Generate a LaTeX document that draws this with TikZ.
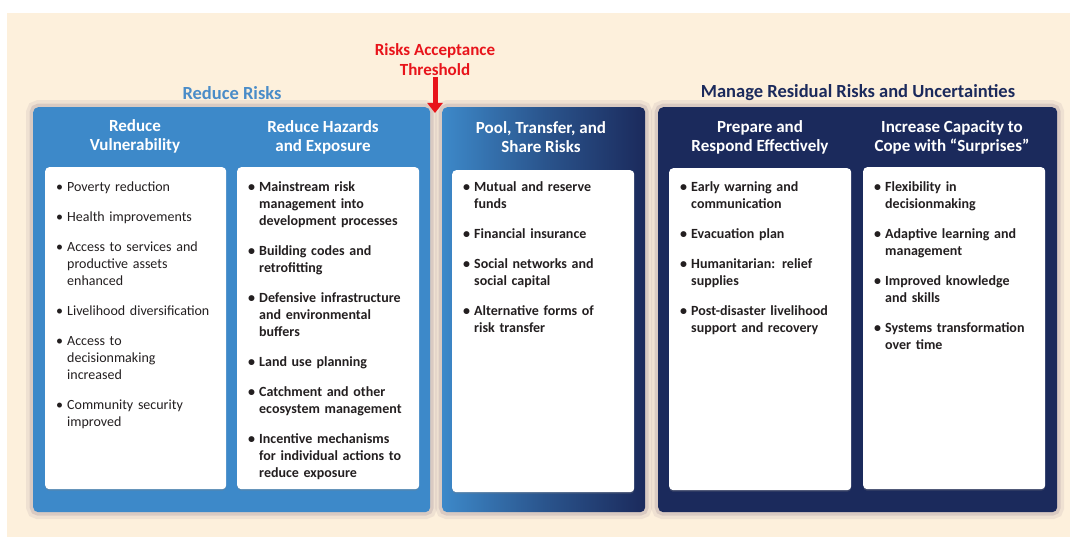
\documentclass[tikz,border=0pt]{standalone}
\usepackage{fontspec}
\setmainfont{Carlito}
\usetikzlibrary{arrows.meta, positioning, shadows}
\definecolor{creamcolor}{RGB}{253,240,220}
\definecolor{riskblue}{RGB}{61,137,201}
\definecolor{titleblue}{RGB}{74,140,200}
\definecolor{navycolor}{RGB}{27,42,92}
\definecolor{haloshade}{RGB}{200,184,182}
\definecolor{threshred}{RGB}{232,20,27}
\definecolor{textdark}{RGB}{35,31,32}

\newcommand{\listfont}{\fontsize{14}{17}\selectfont\parskip=13pt\lineskip=0pt}
\newcommand{\bul}[1]{\par\noindent\makebox[11pt][l]{\textbullet}\begin{tabular}[t]{@{}l@{}}#1\end{tabular}\par}

\begin{document}
\begin{tikzpicture}[
    x=1pt, y=-1pt,
    panel/.style={rounded corners=5pt, anchor=north west, minimum height=405pt,
        preaction={draw=haloshade, line width=14pt, draw opacity=0.25},
        preaction={draw=haloshade, line width=7pt, draw opacity=0.55}},
    card/.style={fill=white, rounded corners=4pt, anchor=north west, minimum width=182pt, minimum height=322pt,
        drop shadow={shadow xshift=0pt, shadow yshift=-1.5pt, opacity=0.3}},
    heading/.style={text=white, align=center, font=\fontsize{17}{19}\selectfont\bfseries},
    group/.style={font=\fontsize{18.5}{20}\selectfont\bfseries},
    items/.style={anchor=north west, inner sep=0pt, text width=170pt, text=textdark, font=\listfont},
    bolditems/.style={items, font=\listfont\bfseries},
    threshold/.style={-{Triangle[length=10pt, width=15pt]}, line width=5pt, threshred}
]
    % Background
    \fill[white] (0,0) rectangle (1070,537);
    \fill[creamcolor] (7,13) rectangle (1070,537);
    \useasboundingbox (0,0) rectangle (1070,537);

    % Panels
    \node[panel, fill=riskblue, minimum width=397pt] (rrpanel) at (33,107) {};
    \node[panel, left color=riskblue, right color=navycolor, middle color=riskblue!45!navycolor, minimum width=203pt] (poolpanel) at (442,107) {};
    \node[panel, fill=navycolor, minimum width=399pt] (mgpanel) at (658,107) {};

    % Group titles
    \node[group, text=titleblue] (rrtitle) at (232,93) {Reduce Risks};
    \node[group, text=navycolor] (mgtitle) at (858,93) {Manage Residual Risks and Uncertainties};
    \node[group, text=threshred, align=center, font=\fontsize{17}{20}\selectfont\bfseries, inner sep=1pt] (thresh) at (435,60) {Risks Acceptance\\Threshold};
    \coordinate (threshtip) at (435,113);
    \draw[threshold] (thresh.south) -- (threshtip);

    % Column headings
    \node[heading] (hvul) at (135,136) {Reduce\\Vulnerability};
    \node[heading] (hhaz) at (323,137) {Reduce Hazards\\and Exposure};
    \node[heading] (hpool) at (541,137) {Pool, Transfer, and\\Share Risks};
    \node[heading] (hprep) at (760,137) {Prepare and\\Respond Effectively};
    \node[heading] (hcope) at (952,137) {Increase Capacity to\\Cope with “Surprises”};

    % Cards
    \node[card, minimum width=181pt] (cvul) at (45,167) {};
    \node[card] (chaz) at (237,167) {};
    \node[card] (cpool) at (452,170) {};
    \node[card] (cprep) at (669,168) {};
    \node[card] (ccope) at (863,167) {};

    % Lists
    \node[items] (lvul) at ([shift={(11,-6)}]cvul.north west) {%
        \bul{Poverty reduction}
        \bul{Health improvements}
        \bul{Access to services and\\productive assets\\enhanced}
        \bul{Livelihood diversification}
        \bul{Access to\\decisionmaking\\increased}
        \bul{Community security\\improved}};
    \node[bolditems] (lhaz) at ([shift={(11,-6)}]chaz.north west) {%
        \bul{Mainstream risk\\management into\\development processes}
        \bul{Building codes and\\retrofitting}
        \bul{Defensive infrastructure\\and environmental\\buffers}
        \bul{Land use planning}
        \bul{Catchment and other\\ecosystem management}
        \bul{Incentive mechanisms\\for individual actions to\\reduce exposure}};
    \node[bolditems] (lpool) at ([shift={(11,-9)}]cpool.north west) {%
        \bul{Mutual and reserve\\funds}
        \bul{Financial insurance}
        \bul{Social networks and\\social capital}
        \bul{Alternative forms of\\risk transfer}};
    \node[bolditems] (lprep) at ([shift={(11,-7)}]cprep.north west) {%
        \bul{Early warning and\\communication}
        \bul{Evacuation plan}
        \bul{Humanitarian: relief\\supplies}
        \bul{Post-disaster livelihood\\support and recovery}};
    \node[bolditems] (lcope) at ([shift={(11,-6)}]ccope.north west) {%
        \bul{Flexibility in\\decisionmaking}
        \bul{Adaptive learning and\\management}
        \bul{Improved knowledge\\and skills}
        \bul{Systems transformation\\over time}};
\end{tikzpicture}
\end{document}
